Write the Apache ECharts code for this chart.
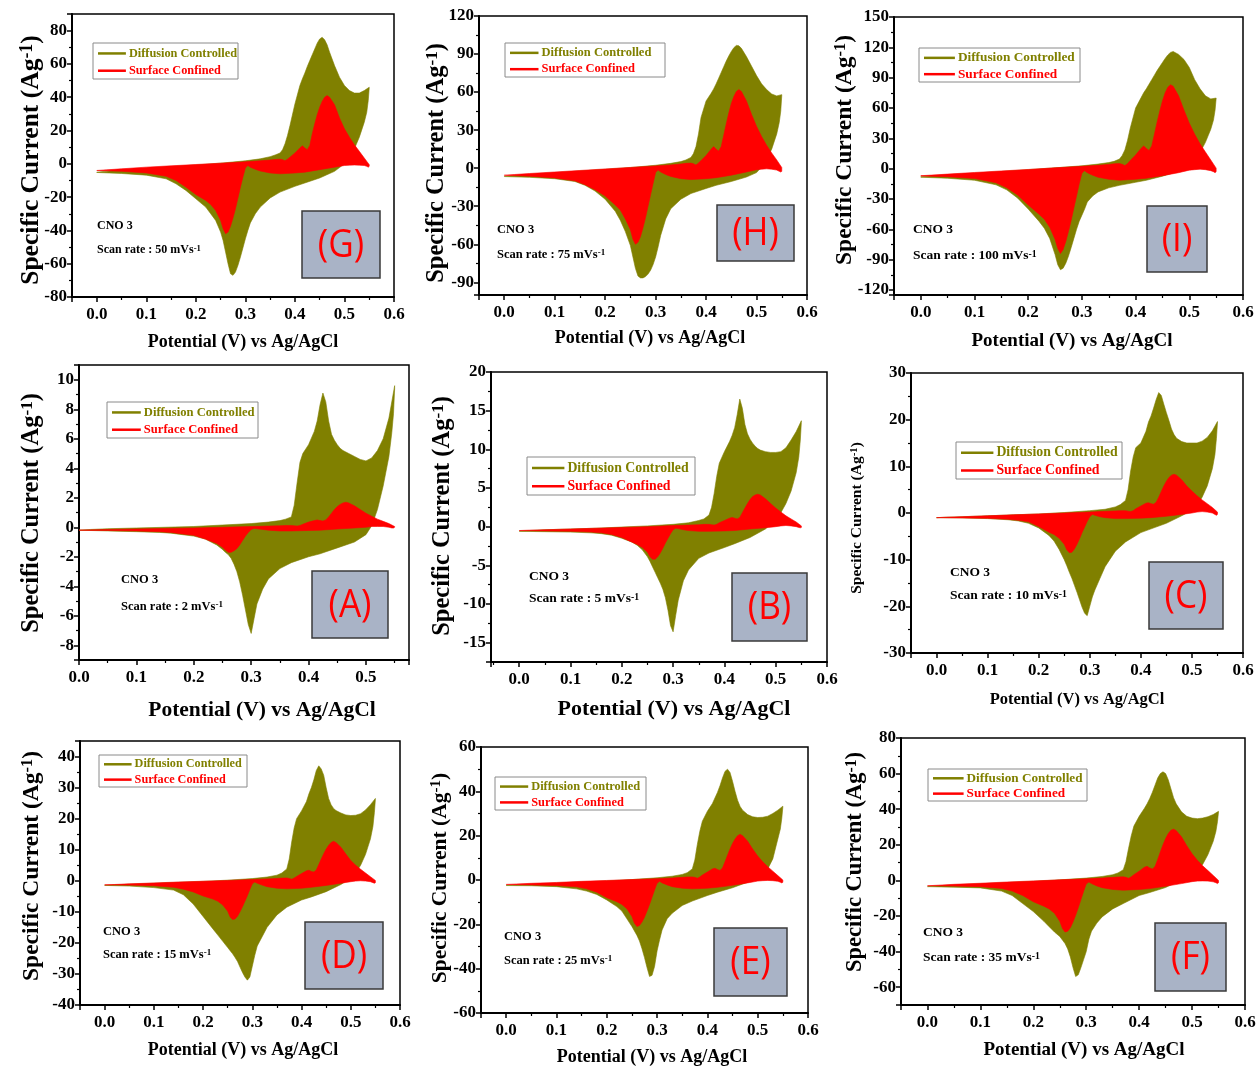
<!DOCTYPE html>
<html>
<head>
<meta charset="utf-8">
<script src="https://cdn.jsdelivr.net/npm/echarts@6/dist/echarts.min.js"></script>
<style>
  html, body { margin: 0; padding: 0; background: #fff; }
  #main { width: 1257px; height: 1067px; }
</style>
</head>
<body>
<div id="main"></div>
<script>
// potential grid (V vs Ag/AgCl): anodic sweep, then cathodic sweep
var potFwd = [0, 0.02, 0.05, 0.1, 0.15, 0.2, 0.25, 0.3, 0.33, 0.35, 0.36, 0.37, 0.375, 0.38, 0.385, 0.39, 0.4, 0.41, 0.415, 0.42, 0.425, 0.43, 0.435, 0.44, 0.445, 0.45, 0.455, 0.46, 0.465, 0.47, 0.48, 0.49, 0.5, 0.51, 0.52, 0.53, 0.54, 0.55];
var potRev = [0.55, 0.548, 0.545, 0.54, 0.53, 0.52, 0.51, 0.5, 0.48, 0.45, 0.42, 0.4, 0.37, 0.35, 0.33, 0.32, 0.31, 0.305, 0.3, 0.295, 0.29, 0.285, 0.28, 0.275, 0.27, 0.265, 0.26, 0.255, 0.25, 0.24, 0.23, 0.22, 0.2, 0.18, 0.16, 0.14, 0.1, 0.05, 0];

// (A) 2 mV/s
var diffFwdA = [-0.2, -0.15, -0.1, -0.05, 0, 0.05, 0.15, 0.25, 0.35, 0.45, 0.55, 0.7, 1.5, 3.0, 4.4, 5.0, 5.6, 6.5, 7.2, 8.3, 9.1, 8.5, 7.2, 6.3, 5.9, 5.6, 5.35, 5.2, 5.1, 5.0, 4.8, 4.6, 4.5, 4.7, 5.2, 6.0, 7.4, 9.6];
var diffRevA = [9.4, 7.7, 6.4, 4.8, 2.8, 1.2, 0.1, -0.5, -1.0, -1.4, -1.8, -2.0, -2.4, -2.8, -3.5, -4.2, -5.2, -6.2, -7.2, -6.6, -5.6, -4.6, -3.7, -3.0, -2.5, -2.1, -1.85, -1.7, -1.5, -1.2, -1.0, -0.8, -0.6, -0.5, -0.4, -0.35, -0.3, -0.25, -0.2];
var surfFwdA = [-0.2, -0.18, -0.15, -0.12, -0.08, -0.05, 0, 0.05, 0.08, 0.1, 0.12, 0.12, 0.1, 0.08, 0.12, 0.2, 0.35, 0.45, 0.5, 0.45, 0.42, 0.5, 0.7, 0.95, 1.2, 1.4, 1.55, 1.65, 1.7, 1.65, 1.45, 1.2, 0.95, 0.75, 0.55, 0.4, 0.25, 0.05];
var surfRevA = [0, -0.05, -0.05, 0, 0.05, 0.05, 0.05, 0, -0.05, -0.12, -0.2, -0.22, -0.25, -0.25, -0.2, -0.15, -0.1, -0.08, -0.15, -0.35, -0.6, -0.9, -1.2, -1.45, -1.6, -1.7, -1.7, -1.55, -1.35, -1.1, -0.95, -0.8, -0.55, -0.45, -0.35, -0.3, -0.25, -0.22, -0.2];

// (B) 5 mV/s
var diffFwdB = [-0.6, -0.5, -0.4, -0.3, -0.2, -0.05, 0.1, 0.3, 0.5, 0.8, 1.0, 1.5, 2.5, 4.3, 6.5, 8.2, 9.7, 11.0, 11.8, 12.8, 14.5, 16.5, 15.3, 13.2, 12.0, 11.3, 10.8, 10.4, 10.1, 9.9, 9.7, 9.6, 9.6, 9.7, 10.2, 11.2, 12.3, 13.7];
var diffRevB = [13.5, 11.2, 9.0, 7.0, 4.6, 3.0, 1.8, 0.9, -0.3, -1.4, -2.2, -2.7, -3.4, -4.1, -5.6, -7.0, -9.5, -11.5, -13.6, -12.8, -10.8, -9.2, -8.1, -7.3, -6.6, -5.9, -5.2, -4.5, -3.9, -3.0, -2.4, -2.0, -1.5, -1.1, -0.9, -0.8, -0.7, -0.65, -0.6];
var surfFwdB = [-0.5, -0.45, -0.4, -0.3, -0.2, -0.1, 0, 0.15, 0.2, 0.25, 0.3, 0.3, 0.25, 0.2, 0.3, 0.5, 0.8, 1.1, 1.2, 1.1, 1.0, 1.2, 1.8, 2.4, 3.0, 3.5, 3.9, 4.1, 4.2, 4.1, 3.6, 3.0, 2.4, 1.9, 1.4, 1.0, 0.6, 0.1];
var surfRevB = [-0.1, -0.15, -0.1, 0, 0.1, 0.15, 0.1, 0, -0.15, -0.3, -0.5, -0.55, -0.6, -0.6, -0.5, -0.4, -0.25, -0.2, -0.4, -0.9, -1.5, -2.1, -2.8, -3.4, -3.9, -4.2, -4.2, -3.9, -3.3, -2.7, -2.3, -2.0, -1.4, -1.0, -0.8, -0.7, -0.6, -0.55, -0.5];

// (C) 10 mV/s
var diffFwdC = [-1.0, -0.9, -0.8, -0.6, -0.4, -0.2, 0.1, 0.5, 0.8, 1.3, 1.8, 2.7, 5.0, 9.0, 12.0, 14.0, 15.0, 17.5, 19.5, 20.8, 22.5, 24.3, 25.8, 25.2, 23.3, 21.5, 19.8, 18.0, 16.8, 16.0, 15.3, 15.0, 15.0, 15.0, 15.4, 16.2, 17.6, 19.6];
var diffRevC = [19.3, 16.0, 12.5, 9.5, 5.8, 3.4, 1.6, 0.6, -0.6, -2.2, -3.4, -4.2, -6.2, -8.2, -11.5, -14.0, -16.5, -18.0, -20.0, -22.0, -21.5, -20.2, -18.6, -17.0, -15.5, -14.0, -12.7, -11.3, -10.0, -7.8, -6.0, -4.8, -3.2, -2.2, -1.7, -1.45, -1.2, -1.05, -1.0];
var surfFwdC = [-1.0, -0.9, -0.8, -0.6, -0.4, -0.2, 0, 0.2, 0.35, 0.45, 0.5, 0.5, 0.4, 0.3, 0.5, 0.9, 1.5, 2.1, 2.2, 2.0, 1.9, 2.3, 3.4, 4.6, 5.8, 6.8, 7.6, 8.1, 8.3, 8.1, 7.1, 5.8, 4.7, 3.7, 2.8, 2.0, 1.2, 0.2];
var surfRevC = [-0.3, -0.5, -0.3, 0, 0.2, 0.3, 0.2, 0, -0.3, -0.7, -1.0, -1.1, -1.2, -1.2, -1.0, -0.8, -0.5, -0.3, -0.8, -1.8, -3.0, -4.2, -5.5, -6.7, -7.7, -8.4, -8.5, -7.9, -6.7, -5.4, -4.6, -4.1, -2.9, -1.9, -1.55, -1.35, -1.15, -1.05, -1.0];

// (D) 15 mV/s
var diffFwdD = [-1.5, -1.3, -1.1, -0.8, -0.5, -0.2, 0.2, 0.7, 1.2, 1.8, 2.5, 3.8, 7.0, 12.5, 17.0, 20.0, 22.5, 25.5, 28.0, 30.0, 32.5, 35.5, 37.0, 36.0, 34.0, 30.0, 26.5, 24.5, 23.3, 22.6, 21.8, 21.2, 21.0, 21.1, 21.6, 22.8, 24.5, 26.5];
var diffRevD = [26.2, 22.0, 17.5, 13.5, 8.5, 5.0, 2.5, 0.8, -1.2, -3.5, -5.2, -6.2, -8.5, -11.0, -15.0, -18.0, -21.0, -24.0, -27.5, -31.0, -32.0, -31.0, -29.5, -27.8, -26.0, -24.7, -23.5, -22.5, -21.5, -19.5, -17.5, -15.5, -11.5, -7.5, -4.5, -3.0, -2.2, -1.7, -1.5];
var surfFwdD = [-1.3, -1.2, -1.0, -0.7, -0.4, -0.15, 0.1, 0.4, 0.6, 0.75, 0.85, 0.9, 0.75, 0.5, 0.9, 1.4, 2.3, 3.2, 3.4, 3.0, 2.8, 3.5, 5.2, 7.0, 8.7, 10.2, 11.4, 12.3, 12.7, 12.3, 10.8, 8.6, 6.5, 5.0, 3.7, 2.5, 1.3, 0.1];
var surfRevD = [-0.6, -0.8, -0.6, -0.3, -0.1, 0, -0.1, -0.3, -0.8, -1.5, -2.1, -2.4, -2.6, -2.4, -1.9, -1.4, -0.8, -0.4, -1.0, -2.8, -4.8, -6.6, -8.4, -10.0, -11.4, -12.3, -12.5, -11.7, -9.8, -7.8, -6.6, -5.9, -4.9, -3.6, -2.7, -2.1, -1.6, -1.4, -1.3];

// (E) 25 mV/s
var diffFwdE = [-2.5, -2.2, -1.9, -1.4, -0.9, -0.4, 0.2, 1.0, 1.7, 2.5, 3.3, 5.0, 9.0, 16.0, 22.0, 26.5, 31.0, 34.5, 37.0, 39.5, 42.5, 46.0, 49.0, 50.0, 48.5, 44.5, 40.0, 36.0, 33.2, 31.5, 29.5, 28.5, 28.2, 28.3, 28.8, 30.0, 31.5, 33.3];
var diffRevE = [33.0, 28.0, 23.0, 18.5, 9.5, 5.0, 2.5, 1.0, -1.0, -3.5, -5.5, -7.0, -9.5, -11.5, -15.0, -17.5, -22.5, -27.0, -32.0, -39.0, -43.0, -43.5, -39.5, -35.0, -31.0, -27.5, -25.0, -23.0, -21.0, -17.5, -14.0, -12.0, -9.0, -6.5, -5.0, -4.0, -3.0, -2.6, -2.5];
var surfFwdE = [-2.0, -1.8, -1.5, -1.1, -0.6, -0.2, 0.2, 0.6, 0.9, 1.2, 1.35, 1.4, 1.2, 0.8, 1.4, 2.2, 3.6, 5.0, 5.3, 4.7, 4.3, 5.4, 8.2, 11.2, 14.0, 16.5, 18.5, 20.0, 20.6, 20.0, 17.5, 14.0, 10.8, 8.2, 6.0, 4.0, 2.0, 0];
var surfRevE = [-1.0, -1.3, -1.0, -0.6, -0.3, -0.2, -0.3, -0.5, -1.3, -2.4, -3.3, -3.7, -4.0, -3.7, -3.0, -2.2, -1.3, -0.6, -1.5, -4.5, -7.8, -11.0, -14.0, -16.8, -19.0, -20.5, -21.0, -19.5, -16.5, -13.0, -11.0, -9.8, -8.0, -5.5, -4.0, -3.1, -2.5, -2.2, -2.0];

// (F) 35 mV/s
var diffFwdF = [-3.5, -3.1, -2.6, -1.9, -1.2, -0.5, 0.3, 1.3, 2.2, 3.2, 4.2, 6.0, 10.5, 18.0, 25.0, 30.5, 36.0, 40.5, 43.0, 46.0, 49.5, 53.5, 57.5, 60.0, 61.0, 60.0, 56.5, 51.5, 46.5, 43.0, 38.5, 36.0, 35.0, 34.7, 35.0, 35.8, 37.0, 38.8];
var diffRevF = [38.5, 33.0, 27.5, 22.0, 14.5, 9.0, 5.5, 3.0, 0.5, -4.0, -6.8, -8.5, -13.0, -16.0, -20.5, -24.0, -28.5, -33.0, -40.0, -44.5, -49.0, -53.0, -54.0, -49.0, -43.0, -38.5, -35.5, -33.5, -31.5, -29.0, -26.0, -23.0, -17.5, -13.0, -8.5, -6.0, -4.2, -3.8, -3.5];
var surfFwdF = [-3.0, -2.7, -2.2, -1.6, -0.9, -0.3, 0.3, 0.9, 1.3, 1.7, 1.9, 2.0, 1.7, 1.2, 2.0, 3.2, 5.2, 7.4, 7.9, 7.0, 6.4, 7.8, 11.8, 16.0, 20.0, 23.5, 26.3, 28.2, 28.8, 28.0, 24.5, 19.5, 15.0, 11.3, 8.2, 5.5, 2.8, 0];
var surfRevF = [-1.3, -1.8, -1.3, -0.8, -0.4, -0.3, -0.4, -0.7, -1.8, -3.3, -4.6, -5.1, -5.5, -5.1, -4.1, -3.1, -1.8, -0.9, -2.0, -6.2, -10.8, -15.3, -19.6, -23.4, -26.6, -28.5, -29.0, -27.0, -23.0, -18.5, -16.0, -14.5, -12.0, -8.5, -6.0, -4.5, -3.5, -3.2, -3.0];

// (G) 50 mV/s
var diffFwdG = [-5.0, -4.4, -3.7, -2.7, -1.7, -0.7, 0.4, 1.8, 3.0, 4.3, 5.3, 6.5, 8.5, 12.0, 17.0, 23.0, 36.0, 47.0, 51.0, 54.5, 58.5, 62.0, 65.5, 69.0, 72.5, 75.0, 76.0, 74.5, 71.5, 67.0, 59.0, 52.0, 47.0, 44.0, 42.5, 42.5, 44.0, 46.0];
var diffRevG = [45.5, 38.0, 31.0, 25.0, 16.0, 9.0, 3.5, 0, -4.5, -8.5, -11.5, -13.5, -17.0, -20.5, -26.0, -30.0, -35.5, -40.0, -45.0, -50.5, -56.0, -61.0, -65.0, -67.0, -66.0, -60.0, -53.0, -46.0, -41.0, -34.0, -30.0, -26.0, -21.0, -16.0, -12.0, -9.0, -6.8, -5.8, -5.2];
var surfFwdG = [-4.0, -3.6, -3.0, -2.0, -1.2, -0.4, 0.4, 1.2, 1.8, 2.3, 2.6, 2.8, 2.5, 1.8, 2.8, 4.0, 6.5, 9.5, 10.8, 9.5, 8.5, 11.0, 18.0, 24.0, 29.5, 34.0, 37.5, 40.0, 41.0, 40.0, 35.5, 27.5, 21.0, 16.0, 11.5, 7.5, 3.5, -0.5];
var surfRevG = [-1.5, -2.0, -1.5, -1.0, -0.8, -0.7, -0.8, -1.0, -2.0, -3.5, -5.0, -5.5, -6.0, -5.5, -4.3, -3.3, -2.0, -1.0, -2.5, -8.0, -14.0, -20.5, -27.0, -32.5, -37.5, -41.0, -42.0, -39.0, -34.0, -28.0, -24.5, -22.0, -18.5, -14.0, -10.0, -7.5, -5.5, -4.5, -4.0];

// (H) 75 mV/s
var diffFwdH = [-6.5, -5.8, -4.9, -3.6, -2.2, -0.9, 0.5, 2.3, 3.8, 5.2, 6.5, 8.5, 11.5, 17.0, 27.0, 40.0, 53.0, 59.0, 62.5, 66.5, 71.0, 75.5, 80.0, 84.5, 88.5, 92.0, 95.0, 96.8, 96.5, 94.5, 88.0, 80.5, 73.0, 66.5, 62.0, 58.5, 57.0, 58.0];
var diffRevH = [57.5, 45.0, 36.0, 27.0, 15.0, 7.0, 1.0, -3.5, -7.0, -10.5, -13.5, -16.0, -20.0, -24.5, -32.0, -40.0, -53.0, -62.0, -70.0, -76.0, -80.5, -83.5, -85.5, -86.5, -86.5, -85.0, -79.0, -70.0, -61.0, -50.0, -41.0, -34.0, -24.5, -18.0, -13.5, -10.5, -8.3, -7.2, -6.6];
var surfFwdH = [-5.5, -5.0, -4.2, -3.0, -1.8, -0.6, 0.6, 1.8, 2.6, 3.3, 3.8, 4.0, 3.5, 2.5, 4.0, 6.0, 10.0, 15.0, 17.0, 15.0, 13.5, 17.0, 26.0, 35.0, 43.5, 51.0, 56.5, 60.5, 62.0, 60.5, 53.0, 42.5, 33.0, 25.0, 18.0, 12.0, 6.5, 0.5];
var surfRevH = [-2.5, -3.0, -2.5, -1.5, -0.8, -0.5, -0.8, -1.2, -3.0, -5.5, -7.5, -8.3, -9.0, -8.3, -6.5, -5.0, -3.0, -1.5, -3.5, -12.0, -21.0, -30.0, -39.0, -47.0, -54.0, -58.5, -60.0, -56.0, -48.5, -40.0, -33.0, -29.0, -22.0, -17.0, -13.0, -10.0, -7.7, -6.3, -5.6];

// (I) 100 mV/s
var diffFwdI = [-8.0, -7.2, -6.0, -4.5, -2.8, -1.0, 0.8, 2.8, 4.5, 6.0, 7.2, 9.5, 13.0, 18.5, 28.0, 40.0, 60.0, 70.0, 75.0, 79.0, 83.5, 88.0, 92.5, 97.0, 101.0, 105.0, 109.0, 112.5, 115.0, 115.8, 113.0, 108.0, 100.0, 88.0, 79.0, 72.0, 69.0, 69.8];
var diffRevI = [69.5, 58.0, 48.0, 39.0, 26.0, 16.0, 8.5, 3.0, -2.5, -7.5, -11.5, -13.5, -16.5, -19.0, -23.0, -27.0, -33.0, -40.0, -46.0, -52.0, -60.0, -69.0, -78.0, -86.5, -93.5, -98.5, -100.0, -95.0, -85.0, -69.0, -59.0, -52.0, -40.0, -29.0, -21.0, -16.0, -11.5, -9.5, -8.5];
var surfFwdI = [-7.0, -6.4, -5.4, -3.8, -2.3, -0.8, 0.8, 2.3, 3.3, 4.2, 4.8, 5.0, 4.3, 3.0, 5.0, 8.0, 13.5, 20.0, 22.5, 20.0, 18.0, 22.5, 34.0, 46.0, 57.0, 67.0, 75.0, 80.5, 83.0, 81.5, 72.0, 58.0, 45.0, 34.0, 24.5, 16.5, 8.5, 0.5];
var surfRevI = [-3.0, -4.0, -3.0, -2.0, -1.0, -0.5, -1.0, -1.5, -4.0, -7.0, -9.5, -10.5, -11.5, -10.5, -8.5, -6.5, -4.0, -2.0, -4.5, -15.0, -27.0, -39.0, -51.0, -62.0, -72.0, -80.0, -84.0, -79.0, -70.0, -58.0, -50.0, -45.0, -36.0, -26.0, -19.0, -14.0, -9.8, -8.0, -7.2];

// panels in the order they sit on the page
var panelLetters = ['G', 'H', 'I', 'A', 'B', 'C', 'D', 'E', 'F'];
var scanRates = [50, 75, 100, 2, 5, 10, 15, 25, 35];
var xMins = [-0.05, -0.05, -0.05, 0, -0.055, -0.05, -0.05, -0.05, -0.05];
var xMaxs = [0.6, 0.6, 0.6, 0.575, 0.6, 0.6, 0.6, 0.6, 0.6];
var yMins = [-80, -100, -125, -9, -17.5, -30, -40, -60, -70];
var yMaxs = [90, 120, 150, 11, 20, 30, 45, 60, 80];
var ySteps = [20, 30, 30, 2, 5, 10, 10, 20, 20];
var curves = {
  A: [diffFwdA, diffRevA, surfFwdA, surfRevA],
  B: [diffFwdB, diffRevB, surfFwdB, surfRevB],
  C: [diffFwdC, diffRevC, surfFwdC, surfRevC],
  D: [diffFwdD, diffRevD, surfFwdD, surfRevD],
  E: [diffFwdE, diffRevE, surfFwdE, surfRevE],
  F: [diffFwdF, diffRevF, surfFwdF, surfRevF],
  G: [diffFwdG, diffRevG, surfFwdG, surfRevG],
  H: [diffFwdH, diffRevH, surfFwdH, surfRevH],
  I: [diffFwdI, diffRevI, surfFwdI, surfRevI]
};

// page layout, pixels
var layout = [
  {grid: [72, 14, 322, 283], legend: [93, 43, 145, 36], legendFont: 12.3, note: [97, 226, 250], noteFont: 12, badge: [302, 211, 78, 67], xName: [243, 342, 18], yName: [31, 160, 25.5]},
  {grid: [479, 16, 328, 279], legend: [505, 43, 160, 34], legendFont: 12.5, note: [497, 230, 255], noteFont: 12.5, badge: [717, 205, 77, 56], xName: [650, 338, 18], yName: [437, 163, 24.5]},
  {grid: [894, 17, 349, 278], legend: [919, 48, 161, 34], legendFont: 13.3, note: [913, 230, 256], noteFont: 13.5, badge: [1147, 206, 60, 66], xName: [1072, 341, 19], yName: [845, 150, 23.5]},
  {grid: [79, 365, 330, 295], legend: [107, 402, 151, 36], legendFont: 12.6, note: [121, 580, 607], noteFont: 12.5, badge: [312, 571, 76, 67], xName: [262, 710, 21.5], yName: [32, 513, 24.5]},
  {grid: [491, 372, 336, 290], legend: [527, 457, 168, 38], legendFont: 13.8, note: [529, 577, 599], noteFont: 13.5, badge: [732, 573, 75, 68], xName: [674, 709, 22], yName: [443, 516, 24.5]},
  {grid: [911, 373, 332, 280], legend: [956, 442, 166, 37], legendFont: 13.8, note: [950, 573, 596], noteFont: 13.5, badge: [1149, 562, 74, 67], xName: [1077, 700, 16.5], yName: [857, 518, 15.5]},
  {grid: [80, 741, 320, 264], legend: [99, 755, 148, 32], legendFont: 12.2, note: [103, 932, 955], noteFont: 12.5, badge: [305, 922, 78, 67], xName: [243, 1050, 18], yName: [32, 866, 23.5]},
  {grid: [481, 747, 327, 266], legend: [495, 777, 151, 33], legendFont: 12.4, note: [504, 937, 961], noteFont: 12.5, badge: [714, 928, 73, 68], xName: [652, 1057, 18], yName: [440, 878, 21.5]},
  {grid: [901, 738, 344, 267], legend: [928, 769, 159, 32], legendFont: 13.2, note: [923, 933, 958], noteFont: 13.5, badge: [1155, 923, 71, 68], xName: [1084, 1050, 19], yName: [855, 862, 22.5]}
];

var OLIVE = '#808000';
var RED = '#ff0000';
var SERIF = '"Liberation Serif", "Times New Roman", serif';
var SANS = '"Open Sans", "Liberation Sans", sans-serif';

// label only the ticks that fall on the step
function tickFormatter(step, digits) {
  return function (v) {
    var k = v / step;
    if (Math.abs(k - Math.round(k)) > 1e-6) return '';
    if (Math.abs(v) < 1e-9) v = 0;
    return v.toFixed(digits);
  };
}

// closed CV loop: anodic branch then cathodic branch
function loopRenderer(fwd, rev, color) {
  return function (params, api) {
    var pts = [];
    for (var k = 0; k < potFwd.length; k++) {
      pts.push(api.coord([potFwd[k], fwd[k]]));
    }
    for (var j = 0; j < potRev.length; j++) {
      pts.push(api.coord([potRev[j], rev[j]]));
    }
    return {
      type: 'polygon',
      shape: {points: pts},
      style: {fill: color, stroke: color, lineWidth: 0.6}
    };
  };
}

var grids = [], xAxes = [], yAxes = [], series = [], elements = [];

layout.forEach(function (L, i) {
  var letter = panelLetters[i];
  var c = curves[letter];

  grids.push({
    left: L.grid[0], top: L.grid[1], width: L.grid[2], height: L.grid[3],
    show: true, borderColor: '#000', borderWidth: 1.5, backgroundColor: 'transparent',
    containLabel: false, outerBoundsMode: 'none'
  });

  xAxes.push({
    gridIndex: i, type: 'value', min: xMins[i], max: xMaxs[i],
    minInterval: 0.1, maxInterval: 0.1,
    axisLine: {onZero: false, lineStyle: {color: '#000', width: 2}},
    axisTick: {length: 5, lineStyle: {color: '#000', width: 1.5}},
    minorTick: {show: true, splitNumber: 2, length: 3, lineStyle: {color: '#000', width: 1.2}},
    splitLine: {show: false},
    axisLabel: {
      formatter: tickFormatter(0.1, 1), fontFamily: SERIF, fontWeight: 'bold',
      fontSize: 17, color: '#000', margin: 9
    }
  });

  yAxes.push({
    gridIndex: i, type: 'value', min: yMins[i], max: yMaxs[i],
    minInterval: ySteps[i], maxInterval: ySteps[i],
    axisLine: {onZero: false, lineStyle: {color: '#000', width: 2}},
    axisTick: {length: 5, lineStyle: {color: '#000', width: 1.5}},
    minorTick: {show: true, splitNumber: 2, length: 3, lineStyle: {color: '#000', width: 1.2}},
    splitLine: {show: false},
    axisLabel: {
      formatter: tickFormatter(ySteps[i], 0), fontFamily: SERIF, fontWeight: 'bold',
      fontSize: 17, color: '#000', margin: 5
    }
  });

  series.push({
    type: 'custom', name: 'Diffusion Controlled', xAxisIndex: i, yAxisIndex: i,
    data: [[0.3, 0]], renderItem: loopRenderer(c[0], c[1], OLIVE), silent: true, z: 2
  });
  series.push({
    type: 'custom', name: 'Surface Confined', xAxisIndex: i, yAxisIndex: i,
    data: [[0.3, 0]], renderItem: loopRenderer(c[2], c[3], RED), silent: true, z: 3
  });

  // legend box
  var lg = L.legend, f = L.legendFont;
  elements.push({
    type: 'rect', z: 50,
    shape: {x: lg[0], y: lg[1], width: lg[2], height: lg[3]},
    style: {fill: '#fff', stroke: '#8a8a8a', lineWidth: 1}
  });
  var rows = [
    [lg[1] + lg[3] * 0.29, OLIVE, 'Diffusion Controlled'],
    [lg[1] + lg[3] * 0.77, RED, 'Surface Confined']
  ];
  rows.forEach(function (r) {
    elements.push({
      type: 'line', z: 51,
      shape: {x1: lg[0] + 5, y1: r[0], x2: lg[0] + 3 * f - 4, y2: r[0]},
      style: {stroke: r[1], lineWidth: 2.5}
    });
    elements.push({
      type: 'text', z: 51, x: lg[0] + 3 * f - 1, y: r[0],
      style: {
        text: r[2], fill: r[1], fontSize: f, fontFamily: SERIF, fontWeight: 'bold',
        align: 'left', verticalAlign: 'middle'
      }
    });
  });

  // sample note
  var nf = L.noteFont;
  elements.push({
    type: 'text', z: 51, x: L.note[0], y: L.note[1],
    style: {
      text: 'CNO 3', fill: '#000', fontSize: nf, fontFamily: SERIF, fontWeight: 'bold',
      align: 'left', verticalAlign: 'middle'
    }
  });
  elements.push({
    type: 'text', z: 51, x: L.note[0], y: L.note[2],
    style: {
      text: '{m|Scan rate : ' + scanRates[i] + ' mVs}{s|-1}',
      align: 'left', verticalAlign: 'middle',
      rich: {
        m: {fontSize: nf, fontFamily: SERIF, fontWeight: 'bold', fill: '#000', color: '#000'},
        s: {fontSize: nf * 0.72, fontFamily: SERIF, fontWeight: 'bold', fill: '#000', color: '#000', verticalAlign: 'top'}
      }
    }
  });

  // panel badge
  var b = L.badge;
  elements.push({
    type: 'rect', z: 50,
    shape: {x: b[0], y: b[1], width: b[2], height: b[3]},
    style: {fill: '#a9b3c6', stroke: '#3a3a3a', lineWidth: 1.5}
  });
  elements.push({
    type: 'text', z: 51, x: b[0] + b[2] / 2, y: b[1] + b[3] / 2 + 1,
    scaleX: 0.95, scaleY: 1.05,
    style: {
      text: '(' + letter + ')', fill: RED, fontSize: 37, fontFamily: SANS,
      align: 'center', verticalAlign: 'middle'
    }
  });

  // axis titles
  elements.push({
    type: 'text', z: 51, x: L.xName[0], y: L.xName[1],
    style: {
      text: 'Potential (V) vs Ag/AgCl', fill: '#000', fontSize: L.xName[2],
      fontFamily: SERIF, fontWeight: 'bold', align: 'center', verticalAlign: 'middle'
    }
  });
  var yf = L.yName[2];
  elements.push({
    type: 'text', z: 51, x: L.yName[0], y: L.yName[1], rotation: Math.PI / 2,
    style: {
      text: '{m|Specific Current (Ag}{s|-1}{m|)}',
      align: 'center', verticalAlign: 'middle',
      rich: {
        m: {fontSize: yf, fontFamily: SERIF, fontWeight: 'bold', fill: '#000', color: '#000'},
        s: {fontSize: yf * 0.7, fontFamily: SERIF, fontWeight: 'bold', fill: '#000', color: '#000', verticalAlign: 'top'}
      }
    }
  });
});

var chart = echarts.init(document.getElementById('main'));
chart.setOption({
  backgroundColor: '#fff',
  animation: false,
  grid: grids,
  xAxis: xAxes,
  yAxis: yAxes,
  series: series,
  graphic: {elements: elements}
});
</script>
</body>
</html>
